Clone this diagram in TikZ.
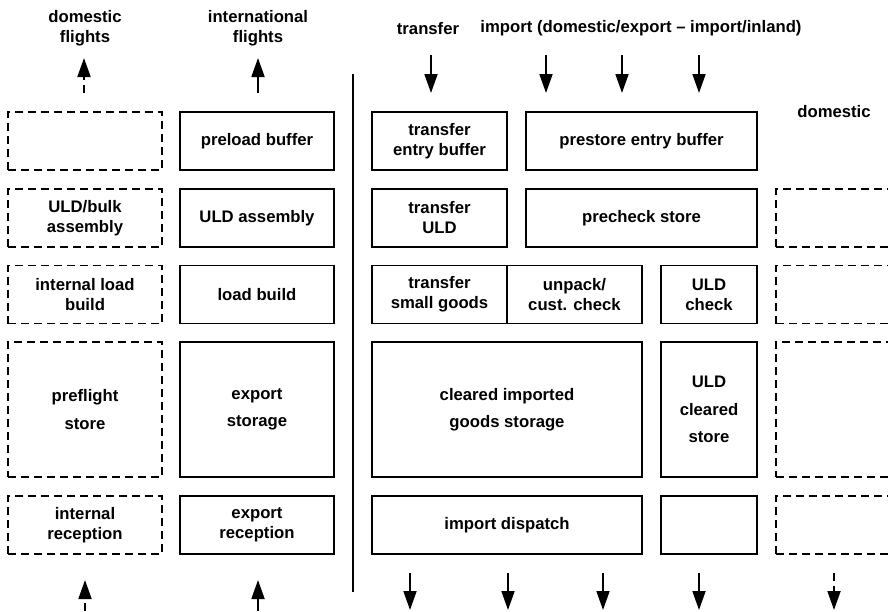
\documentclass[tikz,border=0pt]{standalone}
\usepackage{fontspec}
\setmainfont{Liberation Sans}
\usetikzlibrary{arrows.meta}
\newcommand{\lbl}{\fontsize{16.7}{20}\selectfont\bfseries}
\newcommand{\lblbig}{\fontsize{16.7}{27.5}\selectfont\bfseries}
\tikzset{
  box/.style={draw, line width=1.9pt, inner sep=0pt, outer sep=0pt, align=center, font=\lbl},
  bigbox/.style={box, font=\lblbig},
  dbox/.style={box, dash pattern=on 8pt off 5pt},
  dbigbox/.style={bigbox, dash pattern=on 8pt off 5pt},
  small/.style={minimum height=58pt},
  tall/.style={minimum height=135pt},
  wA/.style={minimum width=154pt},
  wC/.style={minimum width=135pt},
  wCD/.style={minimum width=270pt},
  wDE/.style={minimum width=231pt},
  wE/.style={minimum width=96pt},
  lab/.style={align=center, font=\lbl, inner sep=0pt},
  flow/.style={line width=1.8pt, -{Triangle[length=19pt,width=13pt]}},
  dflow/.style={flow, dash pattern=on 8pt off 5pt},
}
\begin{document}
\begin{tikzpicture}[x=1pt,y=-1pt]
\useasboundingbox (0,0) rectangle (888,611);
\clip (0,0) rectangle (888,611);

% headings
\node[lab] (hdom) at (85,28.5) {domestic\\flights};
\node[lab] (hint) at (258,28.5) {international\\flights};
\node[lab] (htr) at (428,28.5) {transfer};
\node[lab] (himp) at (641,28.5) {import (domestic/export -- import/inland)};
\node[lab] (hdom2) at (834,112) {domestic};

% divider
\coordinate (dvt) at (353,74);
\coordinate (dvb) at (353,592);
\draw[line width=1.9pt] (dvt) -- (dvb);

% column A (dashed)
\node[dbox, wA, small] (a1) at (85,141) {};
\node[dbox, wA, small] (a2) at (85,218) {ULD/bulk\\assembly};
\node[dbox, wA, small] (a3) at (85,294.5) {internal load\\build};
\node[dbigbox, wA, tall] (a4) at (85,409.5) {preflight\\store};
\node[dbox, wA, small] (a5) at (85,525) {internal\\reception};

% column B
\node[box, wA, small] (b1) at (257,141) {preload buffer};
\node[box, wA, small] (b2) at (257,218) {ULD assembly};
\node[box, wA, small] (b3) at (257,294.5) {load build};
\node[bigbox, wA, tall] (b4) at (257,409.5) {export\\storage};
\node[box, wA, small] (b5) at (257,525) {export\\reception};

% right part
\node[box, wC, small] (c1) at (439.5,141) {transfer\\entry buffer};
\node[box, wDE, small] (de1) at (641.5,141) {prestore entry buffer};
\node[box, wC, small] (c2) at (439.5,218) {transfer\\ULD};
\node[box, wDE, small] (de2) at (641.5,218) {precheck store};
\node[box, wC, small] (c3) at (439.5,294.5) {transfer\\small goods};
\node[box, wC, small] (d3) at (574.5,294.5) {unpack/\\cust. check};
\node[box, wE, small] (e3) at (709,294.5) {ULD\\check};
\node[bigbox, wCD, tall] (cd4) at (507,409.5) {cleared imported\\goods storage};
\node[bigbox, wE, tall] (e4) at (709,409.5) {ULD\\cleared\\store};
\node[box, wCD, small] (cd5) at (507,525) {import dispatch};
\node[box, wE, small] (e5) at (709,525) {};

% column F (dashed, cut by the edge)
\node[dbox, wA, small] (f2) at (853,218) {};
\node[dbox, wA, small] (f3) at (853,294.5) {};
\node[dbox, wA, tall] (f4) at (853,409.5) {};
\node[dbox, wA, small] (f5) at (853,525) {};

% top arrows
\coordinate (ta1s) at (84,93);  \coordinate (ta1e) at (84,58);
\coordinate (ta2s) at (258,93); \coordinate (ta2e) at (258,58);
\draw[dflow] (ta1s) -- (ta1e);
\draw[flow] (ta2s) -- (ta2e);
\foreach \x [count=\i] in {431,546,622,699}{
  \coordinate (tin\i) at (\x,55);
  \coordinate (tout\i) at (\x,93);
  \draw[flow] (tin\i) -- (tout\i);
}

% bottom arrows
\coordinate (ba1s) at (85,611);  \coordinate (ba1e) at (85,580);
\coordinate (ba2s) at (258,611); \coordinate (ba2e) at (258,580);
\draw[dflow] (ba1s) -- (ba1e);
\draw[flow] (ba2s) -- (ba2e);
\foreach \x [count=\i] in {410,508,603,699}{
  \coordinate (bin\i) at (\x,573);
  \coordinate (bout\i) at (\x,610);
  \draw[flow] (bin\i) -- (bout\i);
}
\coordinate (bin5) at (834,573);
\coordinate (bout5) at (834,610);
\draw[dflow] (bin5) -- (bout5);
\end{tikzpicture}
\end{document}
